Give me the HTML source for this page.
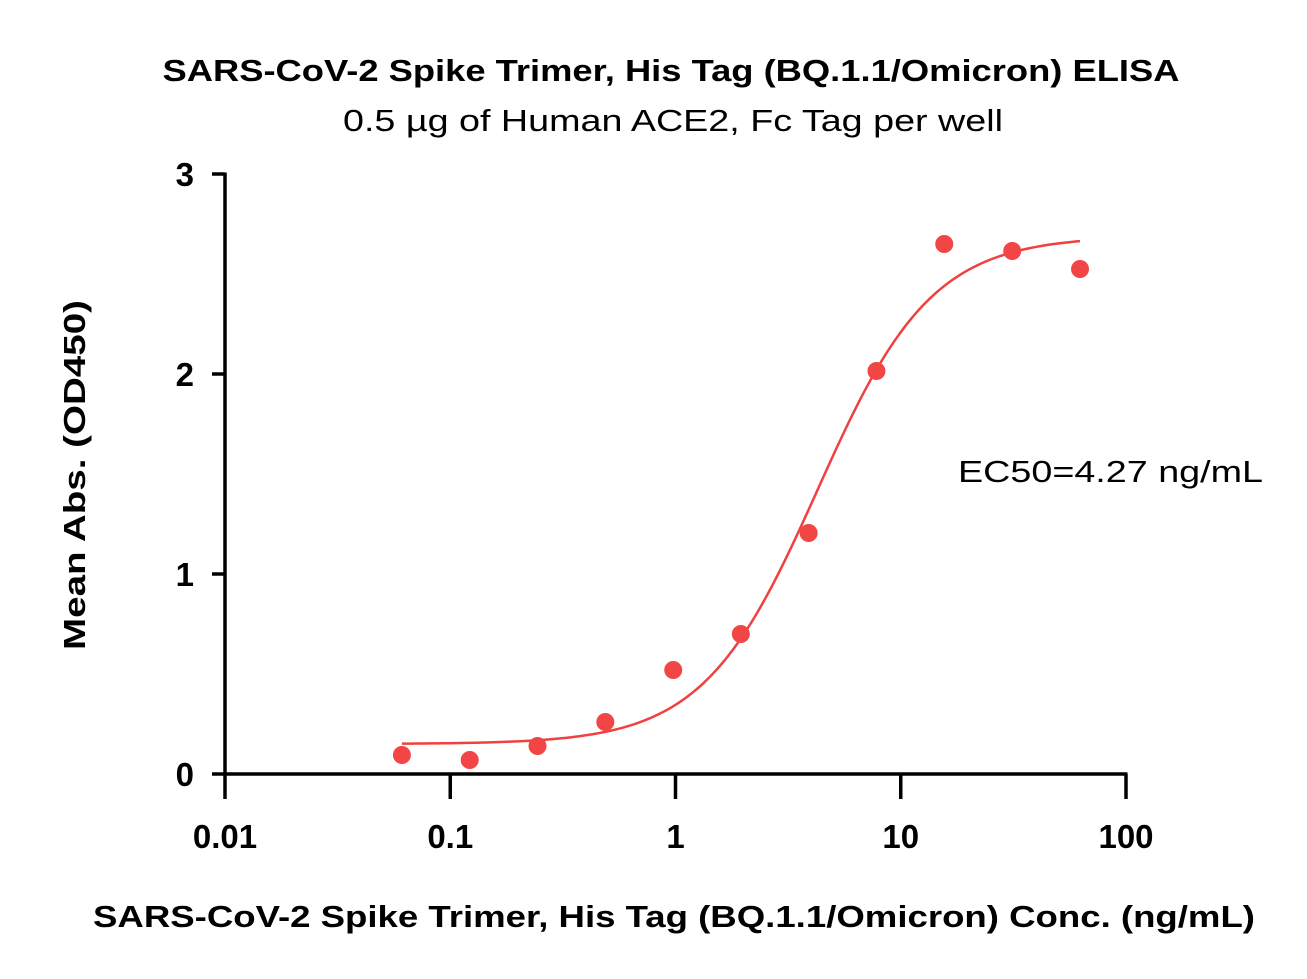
<!DOCTYPE html>
<html><head><meta charset="utf-8"><style>
html,body{margin:0;padding:0;background:#fff;}
svg{display:block;font-family:"Liberation Sans",sans-serif;}
</style></head><body>
<svg id="chart" width="1307" height="979" viewBox="0 0 1307 979">
<text x="671" y="81" text-anchor="middle" font-size="31" font-weight="bold" textLength="1017" lengthAdjust="spacingAndGlyphs">SARS-CoV-2 Spike Trimer, His Tag (BQ.1.1/Omicron) ELISA</text>
<text x="673" y="131" text-anchor="middle" font-size="31" textLength="660" lengthAdjust="spacingAndGlyphs">0.5 µg of Human ACE2, Fc Tag per well</text>
<g id="axes"></g>
<g id="marks"></g>
<text x="958" y="482" font-size="31" textLength="305" lengthAdjust="spacingAndGlyphs">EC50=4.27 ng/mL</text>
<text x="674" y="927" text-anchor="middle" font-size="31" font-weight="bold" textLength="1162" lengthAdjust="spacingAndGlyphs">SARS-CoV-2 Spike Trimer, His Tag (BQ.1.1/Omicron) Conc. (ng/mL)</text>
<text transform="translate(85,475) rotate(-90)" text-anchor="middle" font-size="31" font-weight="bold" textLength="350" lengthAdjust="spacingAndGlyphs">Mean Abs. (OD450)</text>
</svg>
<script>
const xValues=[0.061,0.122,0.244,0.488,0.977,1.95,3.9,7.8,15.6,31.25,62.5];
const yValues=[0.095,0.07,0.14,0.26,0.52,0.70,1.205,2.015,2.65,2.615,2.525];
const xTicks=[0.01,0.1,1,10,100];
const xTickLabels=["0.01","0.1","1","10","100"];
const yTicks=[0,1,2,3];
const yTickLabels=["0","1","2","3"];
const fitParams=[0.15,2.69,4.27,1.71]; // bottom, top, EC50, hill
const NS="http://www.w3.org/2000/svg";
const X0=225,X1=1126,Y0=774,Y1=174;
function xs(v){return X0+(Math.log10(v)+2)/4*(X1-X0);}
function ys(v){return Y0-v/3*(Y0-Y1);}
function mk(t,a,p){const e=document.createElementNS(NS,t);for(const k in a)e.setAttribute(k,a[k]);p.appendChild(e);return e;}
const ax=document.getElementById('axes'),mg=document.getElementById('marks');
const yl=mk('line',{x1:X0,y1:Y0,x2:X0,y2:Y1-1.5,stroke:'#000','stroke-width':3.5},ax);


const xl=mk('line',{x1:X0-1.5,y1:Y0,x2:X1+1.5,y2:Y0,stroke:'#000','stroke-width':3.5},ax);


yTicks.forEach((t,i)=>{
 const l=mk('line',{x1:X0-13,y1:ys(t),x2:X0,y2:ys(t),stroke:'#000','stroke-width':3.5},ax);
 
 
 const tx=mk('text',{x:X0-31,y:ys(t)+12,'text-anchor':'end','font-size':33,'font-weight':'bold'},ax);
 tx.textContent=yTickLabels[i];
 
 
});
xTicks.forEach((t,i)=>{
 const l=mk('line',{x1:xs(t),y1:Y0,x2:xs(t),y2:Y0+25,stroke:'#000','stroke-width':3.5},ax);
 
 
 const tx=mk('text',{x:xs(t),y:Y0+74,'text-anchor':'middle','font-size':33,'font-weight':'bold'},ax);
 tx.textContent=xTickLabels[i];
 
 
});
function fit(x){const[b,t,c,h]=fitParams;return b+(t-b)/(1+Math.pow(c/x,h));}
let d='';const lo=Math.log10(xValues[0]),hi=Math.log10(xValues[xValues.length-1]);
for(let i=0;i<=200;i++){const lx=lo+(hi-lo)*i/200,x=Math.pow(10,lx);d+=(i?'L':'M')+xs(x).toFixed(2)+','+ys(fit(x)).toFixed(2);}
const cv=mk('path',{d:d,fill:'none',stroke:'#f04040','stroke-width':2.5},mg);


xValues.forEach((x,i)=>{
 const c=mk('circle',{cx:xs(x),cy:ys(yValues[i]),r:9,fill:'#f24646'},mg);
 
 
});
</script>
</body></html>
